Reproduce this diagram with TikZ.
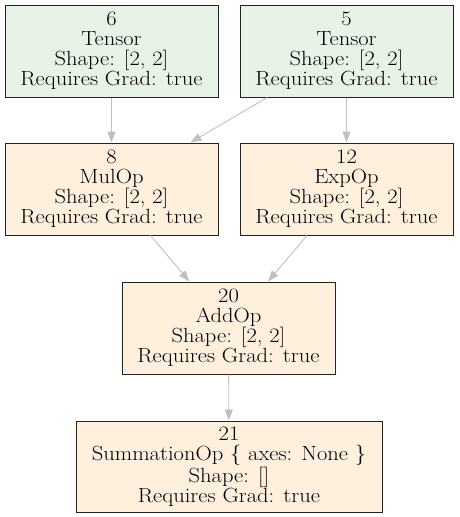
\documentclass[tikz,border=0pt]{standalone}
\usepackage{fontspec}
\setmainfont{Latin Modern Roman}[FakeStretch=1.1]
\usetikzlibrary{arrows.meta}
\definecolor{tensorfill}{HTML}{E8F3E7}
\definecolor{opfill}{HTML}{FFF0DE}
\definecolor{edgegray}{HTML}{C0C0C0}
\definecolor{boxline}{HTML}{222222}
\begin{document}
\begin{tikzpicture}[x=1pt,y=-1pt,
    gnode/.style={draw=boxline, line width=1pt, align=center, inner sep=0pt,
      minimum width=213pt, minimum height=92pt,
      font=\fontsize{20.5}{20}\selectfont},
    tensornode/.style={gnode, fill=tensorfill},
    opnode/.style={gnode, fill=opfill},
    gedge/.style={draw=edgegray, line width=0.9pt,
      -{Triangle[length=11pt,width=8pt]}}]
  \useasboundingbox (0,0) rectangle (459,517);
  {
  % Tensors
  \node [tensornode] (t6) at (111.5,51) {6\\Tensor\\Shape: [2, 2]\\Requires Grad: true};
  \node [tensornode] (t5) at (346.5,51) {5\\Tensor\\Shape: [2, 2]\\Requires Grad: true};

  % Operations
  \node [opnode] (op8) at (111.5,189) {8\\MulOp\\Shape: [2, 2]\\Requires Grad: true};
  \node [opnode] (op12) at (346.5,189) {12\\ExpOp\\Shape: [2, 2]\\Requires Grad: true};
  \node [opnode] (op20) at (228.5,328) {20\\AddOp\\Shape: [2, 2]\\Requires Grad: true};
  \node [opnode, minimum width=306pt, minimum height=91pt] (op21) at (229,466.5)
    {21\\SummationOp \{ axes: None \}\\Shape: []\\Requires Grad: true};

  % Edges
  \draw [gedge] (t6) -- (op8);
  \draw [gedge] (t5) -- (op8);
  \draw [gedge] (t5) -- (op12);
  \draw [gedge] (op8) -- (op20);
  \draw [gedge] (op12) -- (op20);
  \draw [gedge] (op20) -- (op21);
  }
\end{tikzpicture}
\end{document}
